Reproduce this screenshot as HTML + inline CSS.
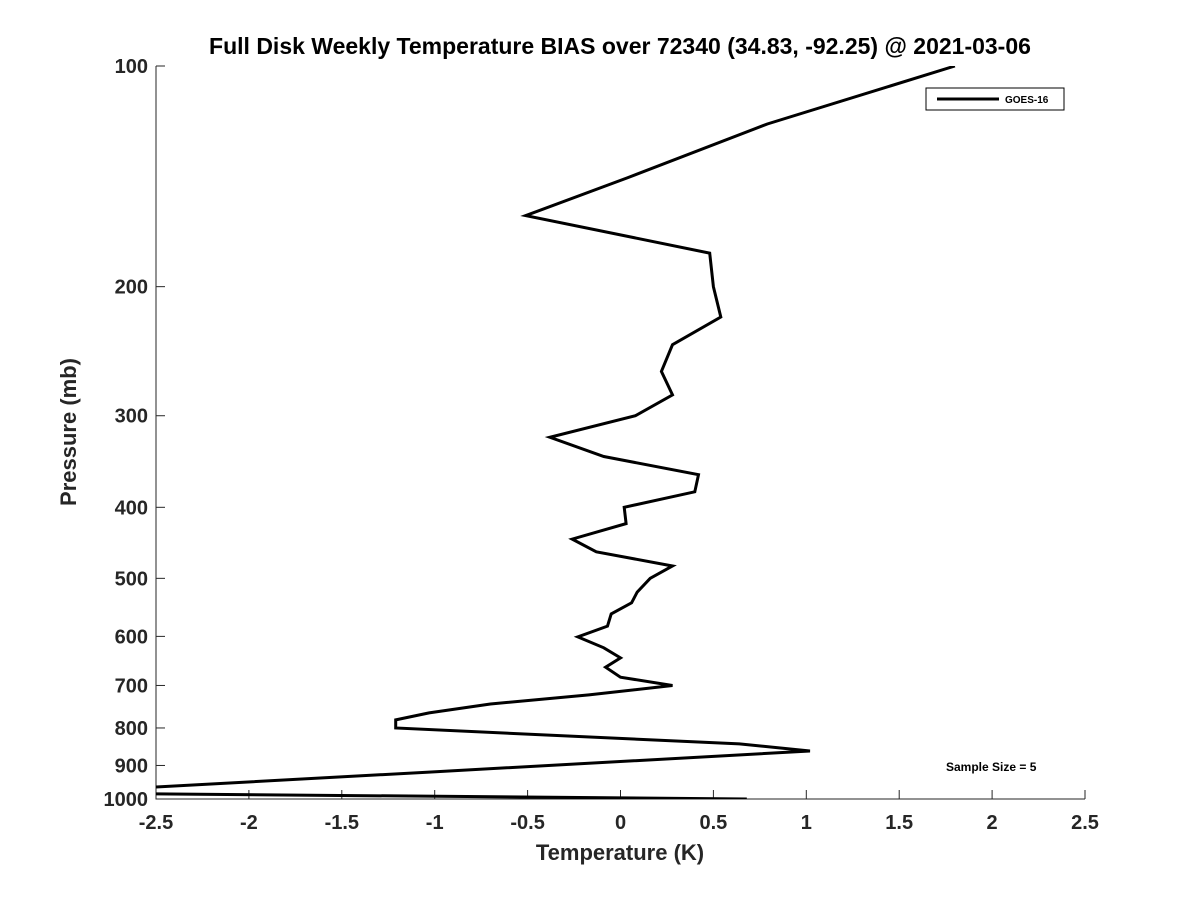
<!DOCTYPE html>
<html><head><meta charset="utf-8"><style>
body{margin:0;background:#fff;}
svg text{font-family:"Liberation Sans","DejaVu Sans",sans-serif;font-weight:bold;fill:#262626;}
</style></head><body>
<svg width="1200" height="900" viewBox="0 0 1200 900" xmlns="http://www.w3.org/2000/svg">
<rect width="1200" height="900" fill="#fff"/>
<text x="620" y="54" text-anchor="middle" font-size="23" style="fill:#000">Full Disk Weekly Temperature BIAS over 72340 (34.83, -92.25) @ 2021-03-06</text>
<defs><clipPath id="pc"><rect x="156" y="66" width="929" height="733"/></clipPath></defs>
<g id="axes"></g>
<g id="series" clip-path="url(#pc)"></g>
<g>
<rect x="926" y="88" width="138" height="22" fill="#fff" stroke="#000" stroke-width="1"/>
<line x1="937" y1="99" x2="999" y2="99" stroke="#000" stroke-width="3"/>
<text x="1005" y="103" font-size="10" style="fill:#000">GOES-16</text>
</g>
<text x="946" y="771" font-size="12" style="fill:#000">Sample Size = 5</text>
<text x="620" y="860" text-anchor="middle" font-size="22">Temperature (K)</text>
<text transform="translate(76,432) rotate(-90)" text-anchor="middle" font-size="22">Pressure (mb)</text>
</svg>
<script>
const xTicks=[-2.5,-2,-1.5,-1,-0.5,0,0.5,1,1.5,2,2.5];
const xTickLabels=["-2.5","-2","-1.5","-1","-0.5","0","0.5","1","1.5","2","2.5"];
const yTicks=[100,200,300,400,500,600,700,800,900,1000];
const pressures=[100,120,142,160,180,200,220,240,261,281,300,321,341,361,381,400,421,442,460,481,500,522,540,559,581,601,622,642,661,682,700,721,742,763,780,800,841,860,919,981,1000];
const bias=[1.80,0.79,0.04,-0.51,0.48,0.50,0.54,0.28,0.22,0.28,0.08,-0.38,-0.09,0.42,0.40,0.02,0.03,-0.26,-0.13,0.28,0.16,0.09,0.06,-0.05,-0.07,-0.23,-0.09,0,-0.08,0,0.28,-0.17,-0.70,-1.03,-1.21,-1.21,0.64,1.02,-1.03,-3.08,0.68];
const L=156,R=1085,T=66,B=799;
const xs=v=>L+(v+2.5)/5*(R-L);
const ys=p=>T+Math.log10(p/100)*(B-T);
const NS="http://www.w3.org/2000/svg";
const ax=document.getElementById('axes');
function mk(t,a,parent){const e=document.createElementNS(NS,t);for(const k in a)e.setAttribute(k,a[k]);parent.appendChild(e);return e;}
let e=mk('path',{d:`M${L} ${T}V${B}H${R}`,fill:'none',stroke:'#262626','stroke-width':1},ax);


xTicks.forEach((v,i)=>{
  const x=xs(v);
  mk('line',{x1:x,y1:B,x2:x,y2:B-9,stroke:'#262626'},ax);
  const t=mk('text',{x:x,y:B+30,'text-anchor':'middle','font-size':20},ax);
  t.textContent=xTickLabels[i];
  
  
});
yTicks.forEach(p=>{
  const y=ys(p);
  mk('line',{x1:L,y1:y,x2:L+9,y2:y,stroke:'#262626'},ax);
  const t=mk('text',{x:L-8,y:y+7,'text-anchor':'end','font-size':20},ax);
  t.textContent=String(p);
  
  
});
const pts=pressures.map((p,i)=>xs(bias[i]).toFixed(1)+','+ys(p).toFixed(1)).join(' ');
const pl=mk('polyline',{points:pts,fill:'none',stroke:'#000','stroke-width':3,'stroke-linejoin':'miter'},document.getElementById('series'));


</script>
</body></html>
